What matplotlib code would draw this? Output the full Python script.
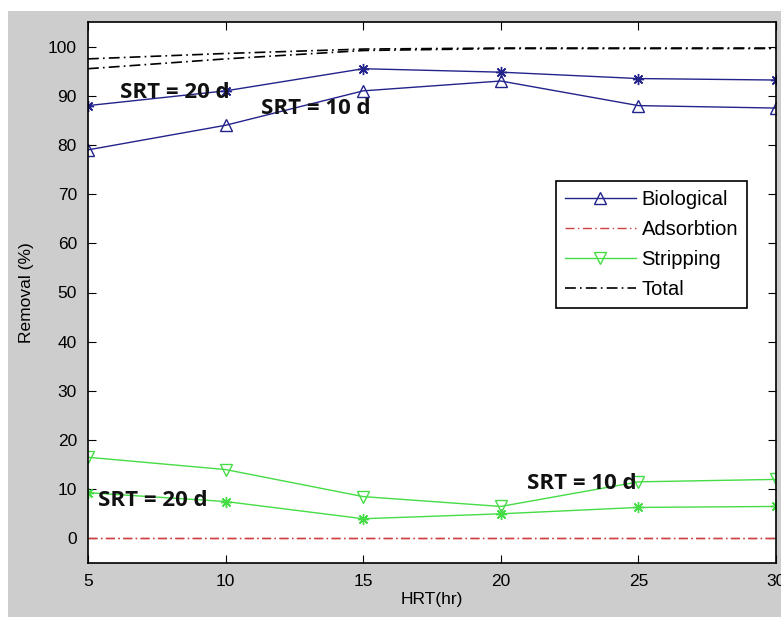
import matplotlib.pyplot as plt
from matplotlib.patches import Rectangle

# ---- data ----
hrt = [5, 10, 15, 20, 25, 30]
bio_srt10 = [79, 84, 91, 93, 88, 87.5]
bio_srt20 = [88, 91, 95.5, 94.8, 93.5, 93.2]
strip_srt10 = [16.5, 14, 8.5, 6.5, 11.5, 12]
strip_srt20 = [9.3, 7.5, 4, 5, 6.3, 6.5]
ads_srt10 = [0, 0, 0, 0, 0, 0]
ads_srt20 = [0, 0, 0, 0, 0, 0]
total_srt10 = [95.5, 97.5, 99.2, 99.6, 99.6, 99.6]
total_srt20 = [97.5, 98.6, 99.5, 99.7, 99.7, 99.7]

legend_labels = ['Biological', 'Adsorbtion', 'Stripping', 'Total']
yticks = list(range(0, 101, 10))
xticks = [5, 10, 15, 20, 25, 30]

plt.rcParams['font.family'] = ['Liberation Sans', 'DejaVu Sans']

BLUE = '#23238c'
GREEN = '#45dc45'
RED = '#d04040'
star = (8, 2, 0)
dashdot = (6.5, 2.5, 1, 2.5)

fig = plt.figure(figsize=(7.81, 6.17), dpi=100, facecolor='white')
# gray matlab-like figure background
fig.patches.append(Rectangle((8 / 781, 0), 1, 1 - 11 / 617, transform=fig.transFigure,
                             facecolor='#cdcdcd', edgecolor='none', zorder=-10))
ax = fig.add_axes([88 / 781, 1 - 563 / 617, (776 - 88) / 781, (563 - 22) / 617])

ax.plot(hrt, bio_srt10, '-', color=BLUE, lw=1, marker='^', ms=8, mfc='none',
        mec=BLUE, label=legend_labels[0])
ax.plot(hrt, bio_srt20, '-', color=BLUE, lw=1, marker=star, ms=8, mec=BLUE)
ax.plot(hrt, ads_srt10, color=RED, lw=1, dashes=dashdot, label=legend_labels[1])
ax.plot(hrt, ads_srt20, color=RED, lw=1, dashes=dashdot)
ax.plot(hrt, strip_srt10, '-', color=GREEN, lw=1, marker='v', ms=8, mfc='none',
        mec=GREEN, label=legend_labels[2])
ax.plot(hrt, strip_srt20, '-', color=GREEN, lw=1, marker=star, ms=8, mec=GREEN)
ax.plot(hrt, total_srt10, color='black', lw=1.2, dashes=dashdot, label=legend_labels[3])
ax.plot(hrt, total_srt20, color='black', lw=1.2, dashes=dashdot)

txt = dict(fontsize=16, fontweight='bold', family=['Open Sans', 'DejaVu Sans'], color='#111111')
ax.text(6.18, 90.7, 'SRT = 20 d', va='center', **txt)
ax.text(11.3, 87.5, 'SRT = 10 d', va='center', **txt)
ax.text(5.38, 7.7, 'SRT = 20 d', va='center', **txt)
ax.text(20.95, 11.2, 'SRT = 10 d', va='center', **txt)

ax.set_xlim(5, 30)
ax.set_ylim(-5, 105)
ax.set_xticks(xticks)
ax.set_yticks(yticks)
ax.tick_params(direction='in', top=True, right=True, length=6, labelsize=12.5, pad=8)
for s in ax.spines.values():
    s.set_linewidth(1.2)
ax.set_xlabel('HRT(hr)', fontsize=12.5, labelpad=2)
ax.set_ylabel('Removal (%)', fontsize=12.5, labelpad=10)

leg = ax.legend(loc='upper left', bbox_to_anchor=((556 - 88) / 688, (563 - 181) / 541),
                fontsize=14.5, frameon=True, fancybox=False, edgecolor='black',
                framealpha=1, borderpad=0.45, labelspacing=0.55, handlelength=3.5,
                handletextpad=0.3, borderaxespad=0)
leg.get_frame().set_linewidth(1.2)

fig.savefig('out.png', dpi=100, facecolor=fig.get_facecolor())
